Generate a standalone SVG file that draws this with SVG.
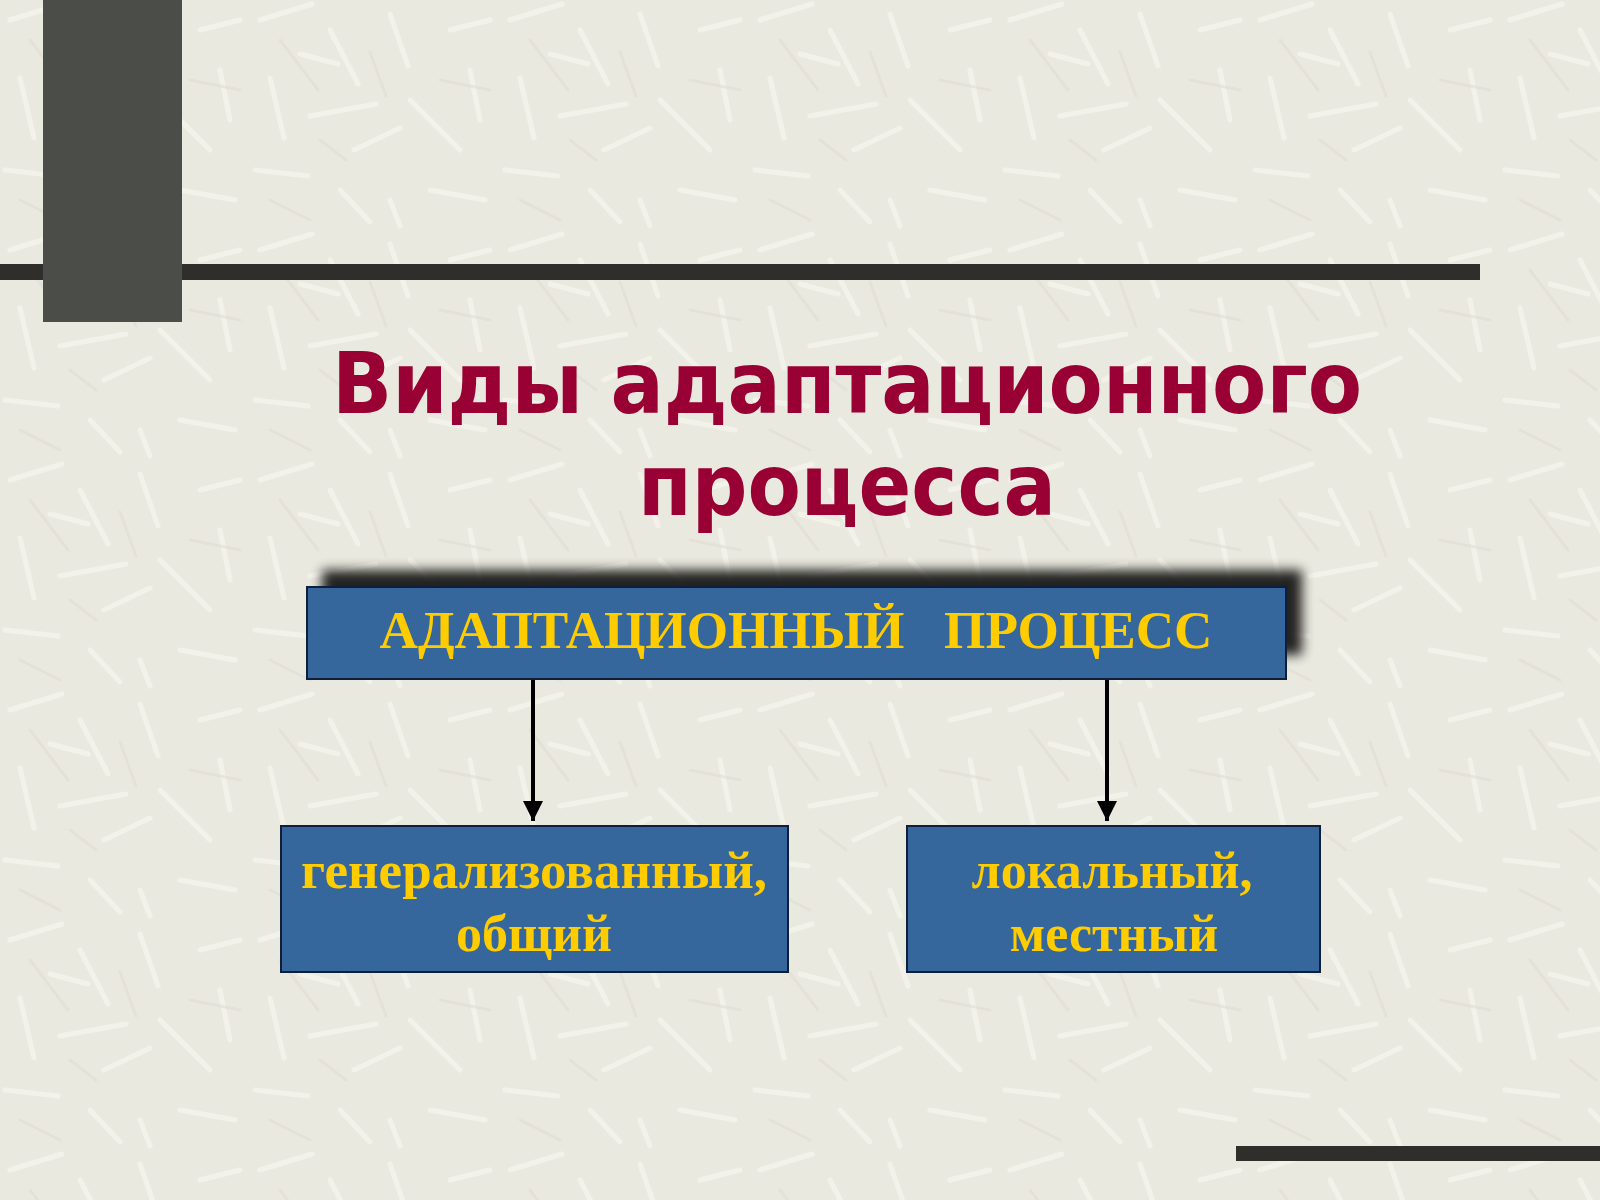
<svg xmlns="http://www.w3.org/2000/svg" width="1600" height="1200" viewBox="0 0 1600 1200">
<defs>
<style>
.title{font-family:"DejaVu Sans",Verdana,sans-serif;font-weight:bold;font-size:86px;fill:#990033;text-anchor:middle}
.box{fill:#35679c;stroke:#0d1f3a;stroke-width:2}
.lbl{font-family:"Liberation Serif","Times New Roman",serif;font-weight:bold;fill:#ffcc00;text-anchor:middle;white-space:pre}
.bar{fill:#302e2a}
.conn{stroke:#000;stroke-width:4;fill:none}
</style>
<pattern id="tex" width="250" height="230" patternUnits="userSpaceOnUse">
<rect width="250" height="230" fill="#eae9df"/>
<g stroke="#f6f6ee" stroke-width="5" stroke-linecap="round" opacity="0.75">
<line x1="10" y1="20" x2="62" y2="4"/>
<line x1="80" y1="30" x2="108" y2="84"/>
<line x1="140" y1="14" x2="158" y2="66"/>
<line x1="200" y1="30" x2="240" y2="20"/>
<line x1="20" y1="78" x2="34" y2="138"/>
<line x1="60" y1="116" x2="126" y2="104"/>
<line x1="160" y1="100" x2="210" y2="150"/>
<line x1="104" y1="150" x2="150" y2="128"/>
<line x1="5" y1="170" x2="58" y2="176"/>
<line x1="50" y1="54" x2="88" y2="64"/>
<line x1="180" y1="190" x2="235" y2="200"/>
<line x1="220" y1="70" x2="230" y2="120"/>
<line x1="90" y1="190" x2="120" y2="222"/>
<line x1="140" y1="200" x2="150" y2="226"/>
</g>
<g stroke="#dfded3" stroke-width="3" stroke-linecap="round" opacity="0.6">
<line x1="30" y1="40" x2="68" y2="90"/>
<line x1="120" y1="52" x2="136" y2="96"/>
<line x1="70" y1="140" x2="96" y2="160"/>
<line x1="190" y1="80" x2="240" y2="90"/>
<line x1="20" y1="200" x2="60" y2="220"/>
</g>
</pattern>
<filter id="sh" x="-10%" y="-50%" width="120%" height="200%">
<feGaussianBlur stdDeviation="6"/>
</filter>
<marker id="ah" viewBox="0 0 10 10" refX="10" refY="5" markerWidth="5" markerHeight="5" orient="auto" markerUnits="strokeWidth">
<path d="M0,0 L10,5 L0,10 z" fill="#000"/>
</marker>
</defs>
<rect width="1600" height="1200" fill="url(#tex)"/>
<g id="decor">
<rect class="bar" x="0" y="264" width="1480" height="16"/>
<rect x="43" y="0" width="139" height="322" fill="#4b4d48"/>
<rect class="bar" x="1236" y="1146" width="364" height="15"/>
</g>
<g id="title">
<text class="title" x="847" y="413" textLength="1030" lengthAdjust="spacingAndGlyphs">Виды адаптационного</text>
<text class="title" x="847" y="515" textLength="418" lengthAdjust="spacingAndGlyphs">процесса</text>
</g>
<g id="connectors">
<line class="conn" x1="533" y1="679" x2="533" y2="821" marker-end="url(#ah)"/>
<line class="conn" x1="1107" y1="679" x2="1107" y2="821" marker-end="url(#ah)"/>
</g>
<g id="node-root">
<rect x="322" y="570" width="980" height="85" fill="#000" opacity="0.85" filter="url(#sh)"/>
<rect class="box" x="307" y="587" width="979" height="92"/>
<text class="lbl" x="796" y="648" font-size="52" textLength="833" lengthAdjust="spacingAndGlyphs">АДАПТАЦИОННЫЙ   ПРОЦЕСС</text>
</g>
<g id="node-general">
<rect class="box" x="281" y="826" width="507" height="146"/>
<text class="lbl" x="534" y="888" font-size="52" textLength="466" lengthAdjust="spacingAndGlyphs">генерализованный,</text>
<text class="lbl" x="534" y="951" font-size="52">общий</text>
</g>
<g id="node-local">
<rect class="box" x="907" y="826" width="413" height="146"/>
<text class="lbl" x="1112" y="888" font-size="52">локальный,</text>
<text class="lbl" x="1114" y="951" font-size="52">местный</text>
</g>
</svg>
